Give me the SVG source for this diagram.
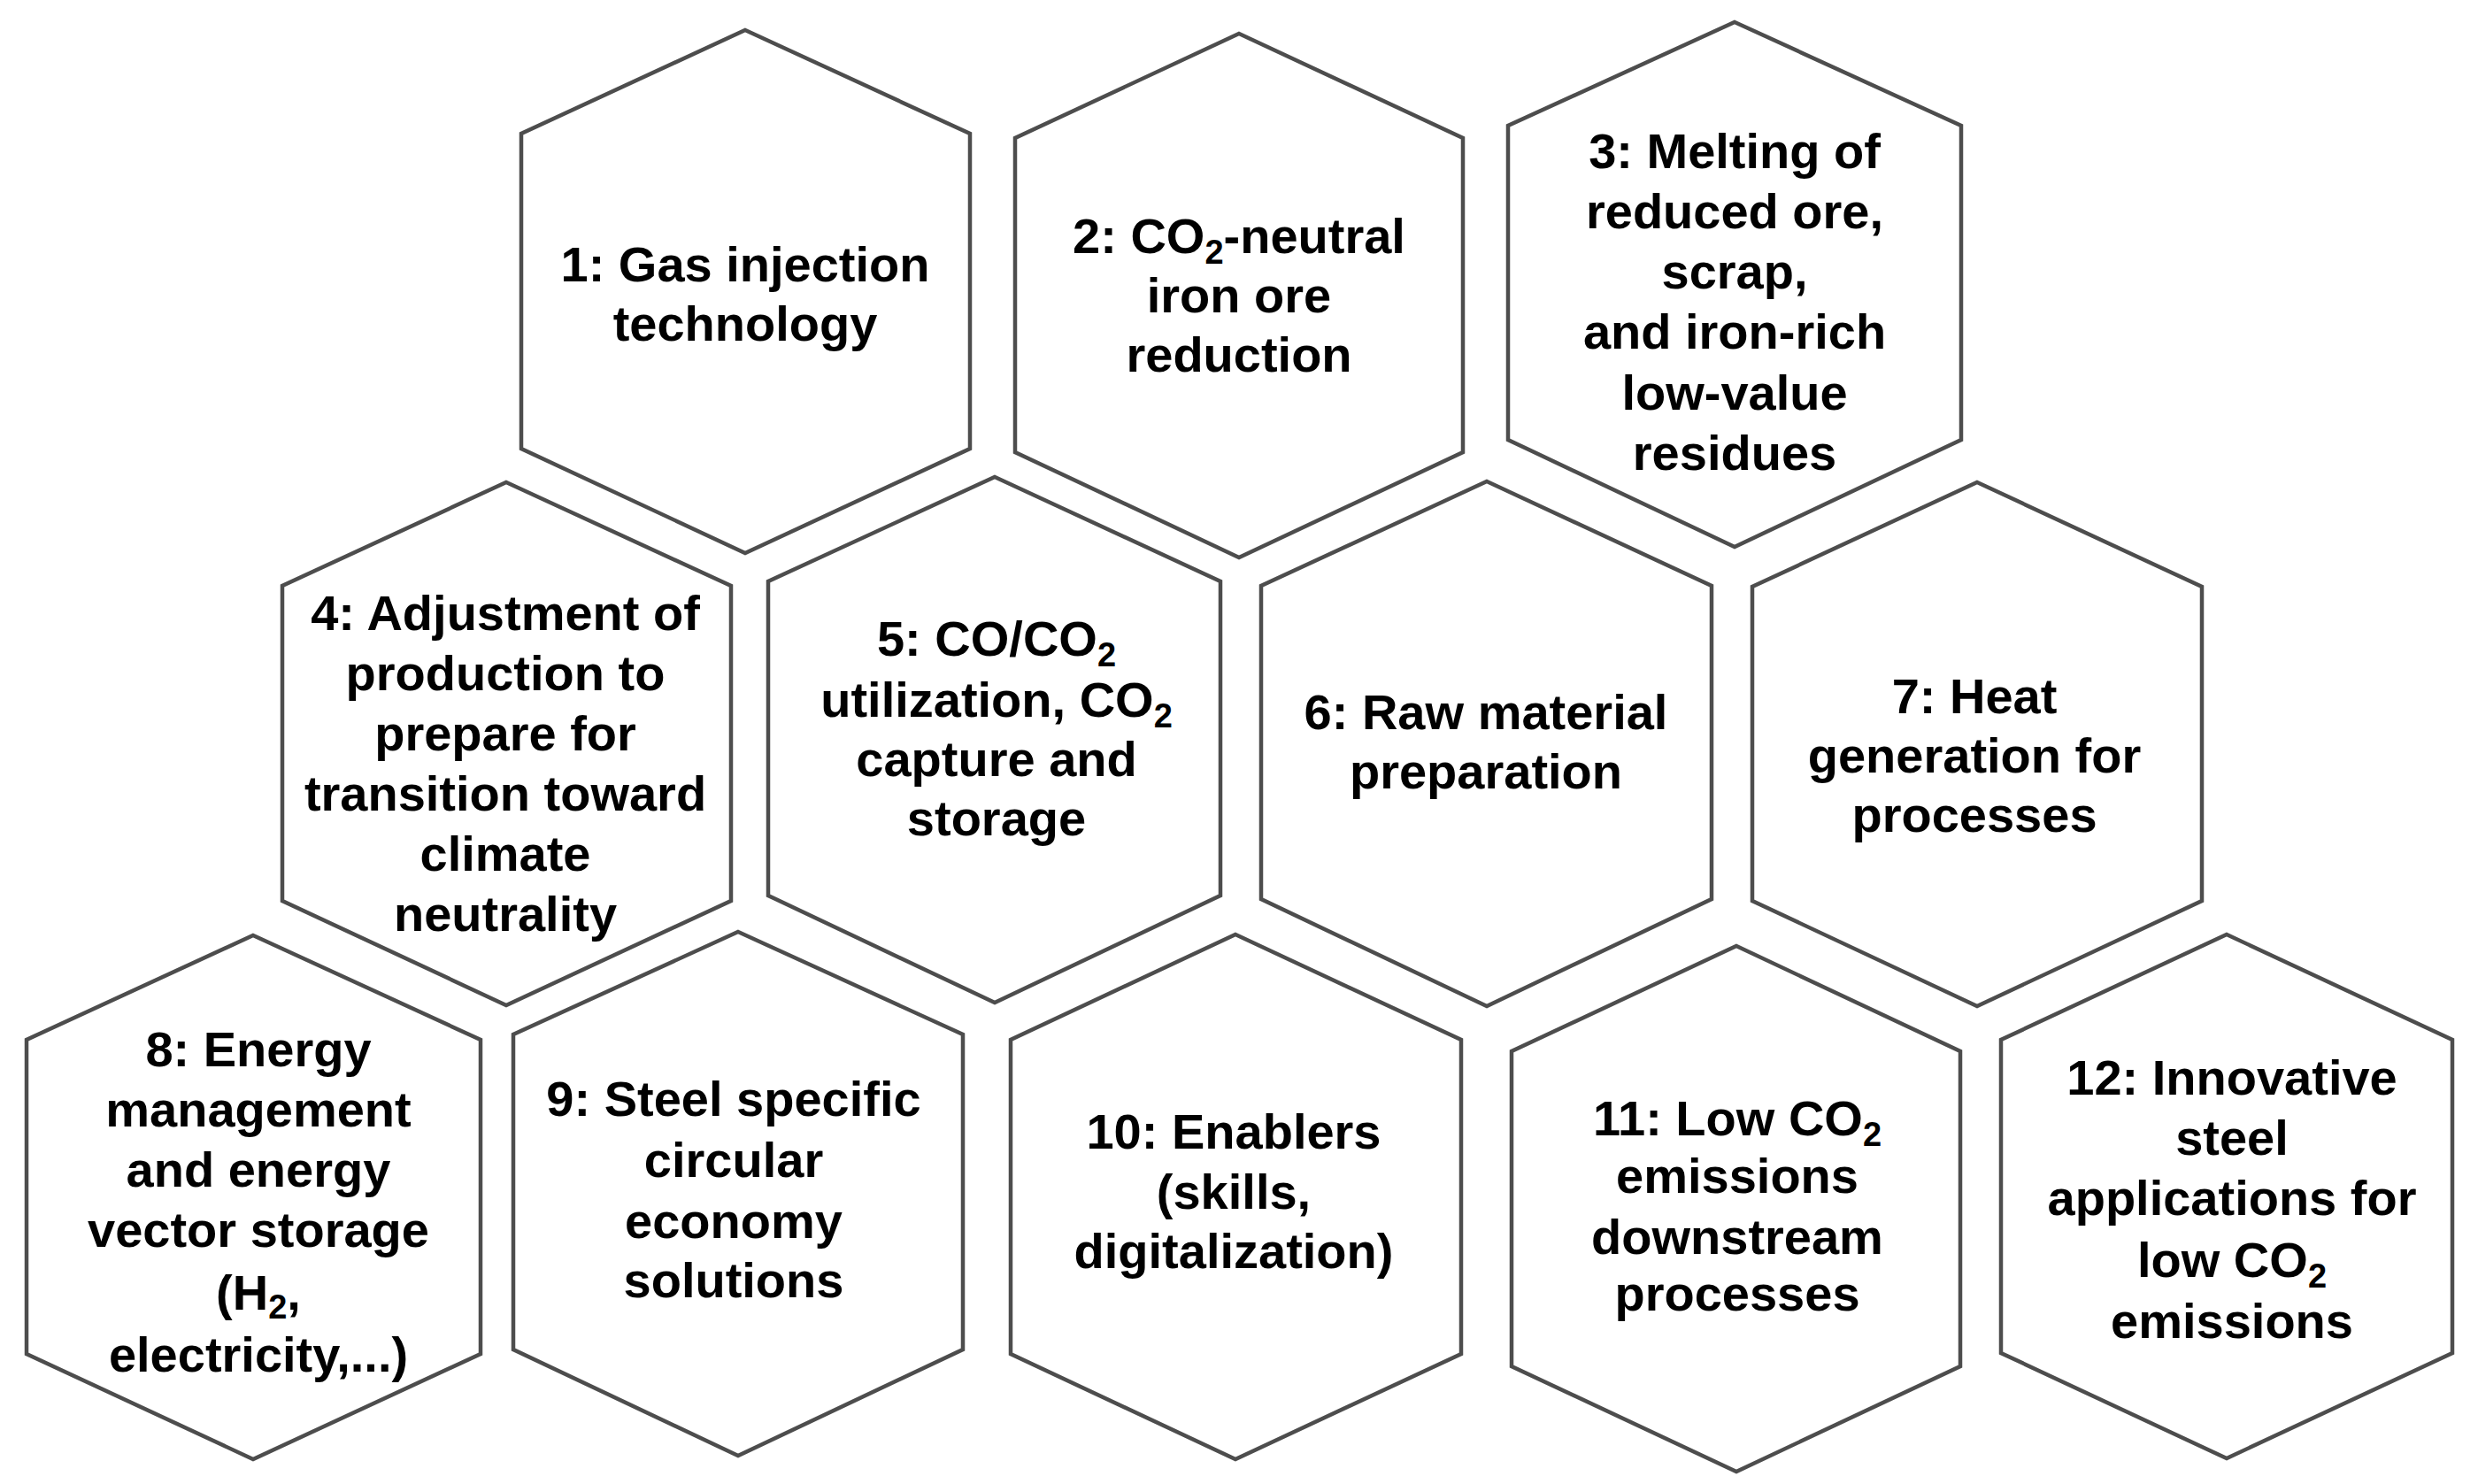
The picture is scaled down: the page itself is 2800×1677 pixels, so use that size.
<svg xmlns="http://www.w3.org/2000/svg" width="2800" height="1677" viewBox="0 0 2800 1677">
<style>
.hex{fill:#ffffff;stroke:#4d4d4d;stroke-width:4.5;stroke-linejoin:miter}
.lbl{font-family:"Liberation Sans",Arial,sans-serif;font-weight:bold;font-size:56px;fill:#000000;text-anchor:middle}
.sub{font-size:38px}
</style>
<rect x="0" y="0" width="2800" height="1677" fill="#ffffff"/>
<g id="connectors"></g>
<g id="node1">
<polygon class="hex" points="842,34 1096,151 1096,507 842,625 589,507 589,151"/>
<text class="lbl" x="842" y="318">1: Gas injection</text>
<text class="lbl" x="842" y="385">technology</text>
</g>
<g id="node2">
<polygon class="hex" points="1400,38 1653,156 1653,511 1400,630 1147,511 1147,156"/>
<text class="lbl" x="1400" y="286">2: CO<tspan class="sub" dy="12">2</tspan><tspan dy="-12">-neutral</tspan></text>
<text class="lbl" x="1400" y="353">iron ore</text>
<text class="lbl" x="1400" y="420">reduction</text>
</g>
<g id="node3">
<polygon class="hex" points="1960,25 2216,142 2216,497 1960,618 1704,497 1704,142"/>
<text class="lbl" x="1960" y="190">3: Melting of</text>
<text class="lbl" x="1960" y="258">reduced ore,</text>
<text class="lbl" x="1960" y="326">scrap,</text>
<text class="lbl" x="1960" y="394">and iron-rich</text>
<text class="lbl" x="1960" y="463">low-value</text>
<text class="lbl" x="1960" y="531">residues</text>
</g>
<g id="node4">
<polygon class="hex" points="572,545 826,662 826,1018 572,1136 319,1018 319,662"/>
<text class="lbl" x="571" y="712">4: Adjustment of</text>
<text class="lbl" x="571" y="780">production to</text>
<text class="lbl" x="571" y="848">prepare for</text>
<text class="lbl" x="571" y="916">transition toward</text>
<text class="lbl" x="571" y="984">climate</text>
<text class="lbl" x="571" y="1052">neutrality</text>
</g>
<g id="node5">
<polygon class="hex" points="1124,539 1379,657 1379,1012 1124,1133 868,1012 868,657"/>
<text class="lbl" x="1126" y="741">5: CO/CO<tspan class="sub" dy="12">2</tspan></text>
<text class="lbl" x="1126" y="810">utilization, CO<tspan class="sub" dy="12">2</tspan></text>
<text class="lbl" x="1126" y="877">capture and</text>
<text class="lbl" x="1126" y="944">storage</text>
</g>
<g id="node6">
<polygon class="hex" points="1680,544 1934,662 1934,1016 1680,1137 1425,1016 1425,662"/>
<text class="lbl" x="1679" y="824">6: Raw material</text>
<text class="lbl" x="1679" y="891">preparation</text>
</g>
<g id="node7">
<polygon class="hex" points="2234,545 2488,663 2488,1018 2234,1137 1980,1018 1980,663"/>
<text class="lbl" x="2231" y="806">7: Heat</text>
<text class="lbl" x="2231" y="873">generation for</text>
<text class="lbl" x="2231" y="940">processes</text>
</g>
<g id="node8">
<polygon class="hex" points="286,1057 543,1175 543,1530 286,1649 30,1530 30,1175"/>
<text class="lbl" x="292" y="1205">8: Energy</text>
<text class="lbl" x="292" y="1273">management</text>
<text class="lbl" x="292" y="1341">and energy</text>
<text class="lbl" x="292" y="1409">vector storage</text>
<text class="lbl" x="292" y="1480">(H<tspan class="sub" dy="10">2</tspan><tspan dy="-10">,</tspan></text>
<text class="lbl" x="292" y="1550">electricity,...)</text>
</g>
<g id="node9">
<polygon class="hex" points="834,1053 1088,1169 1088,1525 834,1645 580,1525 580,1169"/>
<text class="lbl" x="829" y="1261">9: Steel specific</text>
<text class="lbl" x="829" y="1330">circular</text>
<text class="lbl" x="829" y="1399">economy</text>
<text class="lbl" x="829" y="1466">solutions</text>
</g>
<g id="node10">
<polygon class="hex" points="1396,1056 1651,1175 1651,1530 1396,1649 1142,1530 1142,1175"/>
<text class="lbl" x="1394" y="1298">10: Enablers</text>
<text class="lbl" x="1394" y="1366">(skills,</text>
<text class="lbl" x="1394" y="1433">digitalization)</text>
</g>
<g id="node11">
<polygon class="hex" points="1962,1069 2215,1188 2215,1544 1962,1663 1708,1544 1708,1188"/>
<text class="lbl" x="1963" y="1283">11: Low CO<tspan class="sub" dy="12">2</tspan></text>
<text class="lbl" x="1963" y="1348">emissions</text>
<text class="lbl" x="1963" y="1417">downstream</text>
<text class="lbl" x="1963" y="1481">processes</text>
</g>
<g id="node12">
<polygon class="hex" points="2516,1056 2771,1175 2771,1529 2516,1648 2261,1529 2261,1175"/>
<text class="lbl" x="2522" y="1237">12: Innovative</text>
<text class="lbl" x="2522" y="1305">steel</text>
<text class="lbl" x="2522" y="1373">applications for</text>
<text class="lbl" x="2522" y="1443">low CO<tspan class="sub" dy="12">2</tspan></text>
<text class="lbl" x="2522" y="1512">emissions</text>
</g>
</svg>
